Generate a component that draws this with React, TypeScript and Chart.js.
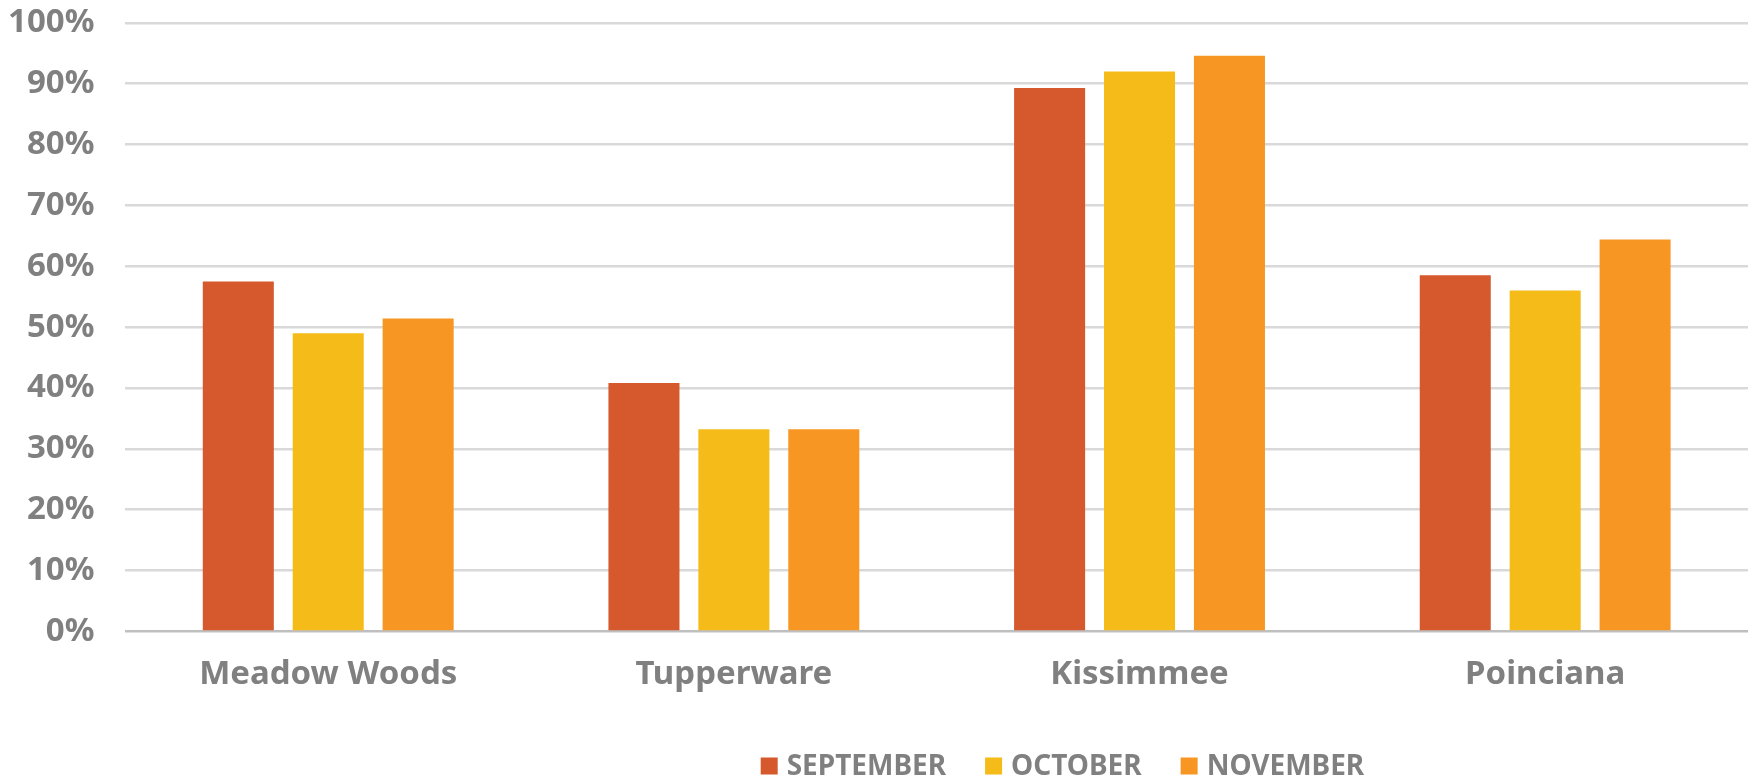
import React, { useEffect, useRef } from 'react';
import { Chart, registerables } from 'chart.js';

Chart.register(...registerables);

const categories = ['Meadow Woods', 'Tupperware', 'Kissimmee', 'Poinciana'];
const seriesNames = ['SEPTEMBER', 'OCTOBER', 'NOVEMBER'];
const september = [57.5, 40.8, 89.3, 58.5];
const october = [49.0, 33.2, 92.0, 56.0];
const november = [51.4, 33.2, 94.6, 64.4];
const seriesColors = ['#D5592D', '#F5BB19', '#F79622'];
const yMin = 0;
const yMax = 100;
const yStep = 10;

const FONT = "'Noto Sans', 'Open Sans', sans-serif";
const TEXT_COLOR = '#808080';

const customLegend = {
  id: 'customLegend',
  afterDraw(chart: any) {
    const ctx = chart.ctx as CanvasRenderingContext2D;
    const fontSize = 28;
    const box = 17;
    const textGap = 9;
    const itemGap = 39;
    ctx.save();
    ctx.font = `bold ${fontSize}px ${FONT}`;
    ctx.textBaseline = 'middle';
    ctx.textAlign = 'left';
    const items = chart.data.datasets.map((d: any) => ({
      label: d.label as string,
      color: d.backgroundColor as string,
      w: ctx.measureText(d.label).width,
    }));
    const total =
      items.reduce((s: number, it: any) => s + box + textGap + it.w, 0) +
      itemGap * (items.length - 1);
    const centerX = chart.chartArea.left + (chart.chartArea.right - chart.chartArea.left) * 0.5775;
    const cy = chart.height - 18;
    let x = centerX - total / 2;
    for (const it of items) {
      ctx.fillStyle = it.color;
      ctx.fillRect(x, cy - box / 2, box, box);
      x += box + textGap;
      ctx.fillStyle = TEXT_COLOR;
      ctx.fillText(it.label, x, cy + 1);
      x += it.w + itemGap;
    }
    ctx.restore();
  },
};

export default function App() {
  const canvasRef = useRef<HTMLCanvasElement | null>(null);

  useEffect(() => {
    document.body.style.margin = '0';
    const canvas = canvasRef.current;
    if (!canvas) return;
    const chart = new Chart(canvas, {
      type: 'bar',
      data: {
        labels: categories,
        datasets: [
          { label: seriesNames[0], data: september, backgroundColor: seriesColors[0] },
          { label: seriesNames[1], data: october, backgroundColor: seriesColors[1] },
          { label: seriesNames[2], data: november, backgroundColor: seriesColors[2] },
        ],
      },
      options: {
        animation: false,
        responsive: false,
        maintainAspectRatio: false,
        events: [],
        datasets: {
          bar: {
            categoryPercentage: 0.665,
            barPercentage: 0.79,
          },
        },
        layout: {
          padding: { top: 22, left: 5, right: 11, bottom: 75 },
        },
        plugins: {
          legend: { display: false },
          tooltip: { enabled: false },
        },
        scales: {
          x: {
            grid: { display: false },
            border: { display: false },
            ticks: {
              color: TEXT_COLOR,
              padding: 15,
              font: { family: FONT, size: 33, weight: 'bold' },
            },
          },
          y: {
            min: yMin,
            max: yMax,
            border: { display: false },
            grid: {
              drawTicks: true,
              tickLength: 28,
              tickColor: 'rgba(0,0,0,0)',
              lineWidth: 2.5,
              color: (c: any) => (c.tick && c.tick.value === 0 ? '#BFBFBF' : '#D9D9D9'),
            },
            ticks: {
              stepSize: yStep,
              padding: 3,
              color: TEXT_COLOR,
              font: { family: FONT, size: 33, weight: 'bold' },
              callback: (v: any) => `${v}%`,
            },
          },
        },
      },
      plugins: [customLegend],
    });
    return () => chart.destroy();
  }, []);

  return (
    <div style={{ width: 1759, height: 784 }}>
      <canvas ref={canvasRef} width={1759} height={784} style={{ display: 'block' }} />
    </div>
  );
}
